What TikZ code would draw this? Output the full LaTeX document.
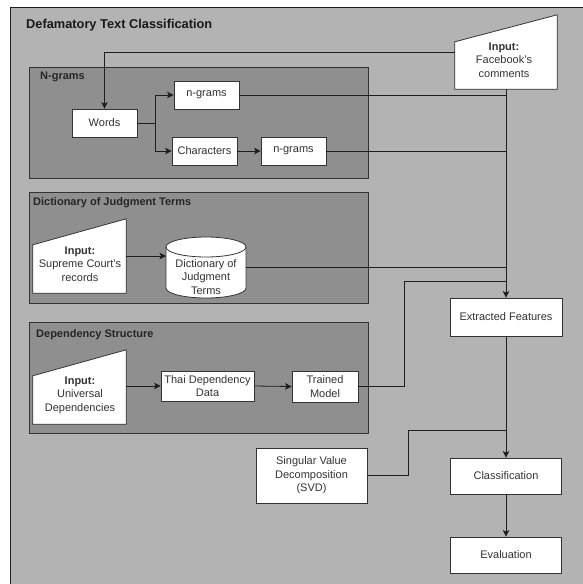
\documentclass[tikz,border=0pt]{standalone}
\usepackage{fontspec}
\setmainfont{Liberation Sans}
\usetikzlibrary{arrows.meta,calc}
\definecolor{bg}{HTML}{B3B3B3}
\definecolor{panelc}{HTML}{8F8F8F}
\definecolor{txt}{HTML}{333333}
\definecolor{ln}{HTML}{1E1E1E}
\tikzset{
  boxn/.style={draw=txt, fill=white, line width=0.8pt, inner sep=0pt, text=txt,
    font=\fontsize{11}{13.5}\selectfont, align=center},
  panelbox/.style={draw=txt, fill=panelc, line width=0.8pt, inner sep=0pt},
  plabel/.style={anchor=west, inner sep=0pt, text=black!85, font=\fontsize{11}{13}\selectfont\bfseries},
  ghost/.style={inner sep=0pt, draw=none},
  itext/.style={inner sep=0pt, text=txt, align=center, font=\fontsize{11}{13.5}\selectfont},
  conn/.style={draw=ln, line width=0.8pt},
  arr/.style={conn, -{Stealth[length=6.5pt,width=6.5pt,inset=1.5pt]}},
  shapest/.style={draw=txt, fill=white, line width=0.8pt},
}
\begin{document}
\begin{tikzpicture}[x=1pt,y=-1pt]
\useasboundingbox (0,0) rectangle (582,584);
\fill[white] (0,0) rectangle (582,584);
\draw[draw=ln, fill=bg, line width=0.8pt] (10,7) rectangle (600,600);
\node[anchor=west, inner sep=0pt, font=\fontsize{12.8}{14}\selectfont\bfseries, text=black!90] (title) at (26,25) {Defamatory Text Classification};

% panels
\node[panelbox, minimum width=339pt, minimum height=111pt] (pngram) at (198.5,122.5) {};
\node[plabel] (lngram) at (40,77) {N-grams};
\node[panelbox, minimum width=339pt, minimum height=111pt] (pdict) at (198.5,247.5) {};
\node[plabel] (ldict) at (33,203) {Dictionary of Judgment Terms};
\node[panelbox, minimum width=339pt, minimum height=111pt] (pdep) at (198.5,377.5) {};
\node[plabel] (ldep) at (36,335) {Dependency Structure};

% N-gram boxes
\node[boxn, minimum width=65pt, minimum height=28pt] (words) at (104.5,123) {Words};
\node[boxn, minimum width=65pt, minimum height=28pt] (ng1) at (206.5,95) {n-grams};
\node[boxn, minimum width=65pt, minimum height=28pt] (chars) at (204.5,151) {Characters};
\node[boxn, minimum width=65pt, minimum height=28pt] (ng2) at (293.5,151) {n-grams};

% Facebook input
\node[ghost, minimum width=102pt, minimum height=74pt] (fb) at (506,52) {};
\path[shapest] (fb.south west) -- (fb.south east) -- (fb.north east) -- ($(fb.north west)+(0,27)$) -- cycle;
\node[itext] (fbt) at (504,60) {\textbf{Input:}\\Facebook's\\comments};

% Supreme court input
\node[ghost, minimum width=93pt, minimum height=74pt] (sc) at (79.5,256) {};
\path[shapest] (sc.south west) -- (sc.south east) -- (sc.north east) -- ($(sc.north west)+(0,26)$) -- cycle;
\node[itext] (sct) at (80,264) {\textbf{Input:}\\Supreme Court's\\records};

% Dictionary cylinder
\node[ghost, minimum width=80pt, minimum height=61pt] (dict) at (206,267.5) {};
\path[shapest] (166,247) -- (166,288) arc[start angle=180,end angle=360,x radius=40pt,y radius=10pt]
  -- (246,247) arc[start angle=0,end angle=180,x radius=40pt,y radius=10pt] -- cycle;
\draw[draw=txt, line width=0.8pt] (166,247) arc[start angle=180,end angle=360,x radius=40pt,y radius=10pt];
\node[itext] (dictt) at (206,277) {Dictionary of\\Judgment\\Terms};

% Universal dependencies input
\node[ghost, minimum width=93pt, minimum height=74pt] (ud) at (79.5,387) {};
\path[shapest] (ud.south west) -- (ud.south east) -- (ud.north east) -- ($(ud.north west)+(0,26)$) -- cycle;
\node[itext] (udt) at (80,395) {\textbf{Input:}\\Universal\\Dependencies};

\node[boxn, minimum width=93pt, minimum height=30pt] (thai) at (207.5,386) {Thai Dependency\\Data};
\node[boxn, minimum width=66pt, minimum height=31pt] (trained) at (325,386.5) {Trained\\Model};

% right column
\node[boxn, minimum width=112pt, minimum height=38pt] (ext) at (506,317) {Extracted Features};
\node[boxn, minimum width=111pt, minimum height=36pt] (cls) at (506,476) {Classification};
\node[boxn, minimum width=111pt, minimum height=36pt] (eval) at (506,555) {Evaluation};
\node[boxn, minimum width=111pt, minimum height=55pt] (svd) at (311.5,475.5) {Singular Value\\Decomposition\\(SVD)};

% connectors
\draw[arr] (fb.west) -| (words.north);
\draw[arr] (fb.south) -- (ext.north);
\coordinate (split) at (155,123);
\draw[conn] (words.east) -- (split);
\draw[arr] (split) |- (ng1.west);
\draw[arr] (split) |- (chars.west);
\draw[arr] (chars.east) -- (ng2.west);
\draw[conn] (ng1.east) -- (ng1.east -| fb.south);
\draw[conn] (ng2.east) -- (ng2.east -| fb.south);
\draw[conn] (dict.east) -- (dict.east -| fb.south);
\draw[arr] (sc.east |- 0,256) -- (166,256);
\draw[arr] (ud.east |- thai.west) -- (thai.west);
\draw[arr] (thai.east) -- (trained.west);
\coordinate (tmj) at (404,281);
\draw[conn] (trained.east) -| (tmj) -- (tmj -| fb.south);
\coordinate (svj) at (408,430);
\draw[conn] (svd.east) -| (svj) -- (svj -| ext.south);
\draw[arr] (ext.south) -- (cls.north);
\draw[arr] (cls.south) -- (eval.north);
\end{tikzpicture}
\end{document}
